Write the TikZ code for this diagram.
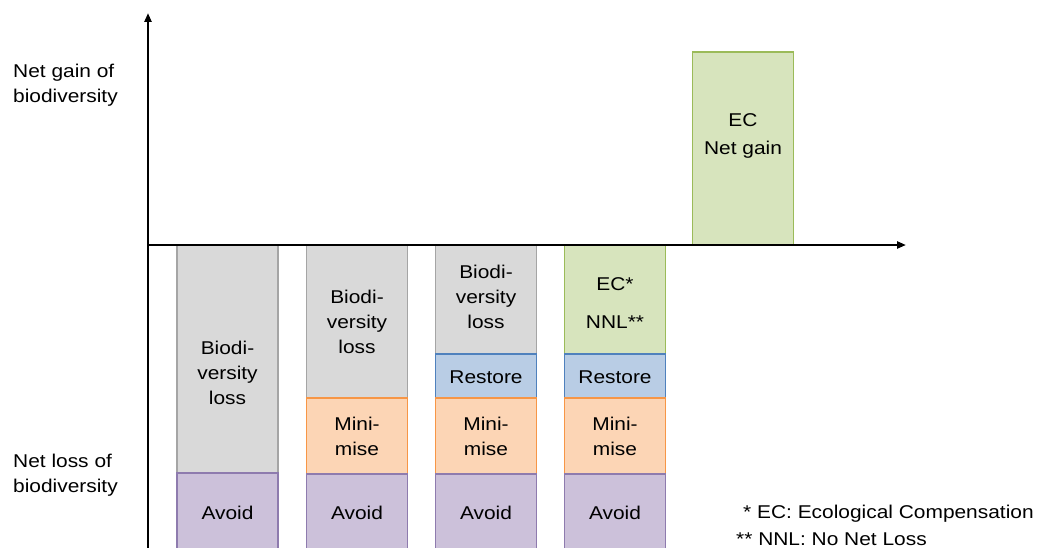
\documentclass[tikz,border=0pt]{standalone}
\usepackage{fontspec}
\setmainfont{Liberation Sans}[FakeStretch=1.13]
\usetikzlibrary{arrows.meta}
\definecolor{lossF}{HTML}{D9D9D9}
\definecolor{lossD}{HTML}{A5A5A5}
\definecolor{avoidF}{HTML}{CCC1DA}
\definecolor{avoidD}{HTML}{8E7BAE}
\definecolor{miniF}{HTML}{FCD5B5}
\definecolor{miniD}{HTML}{F79646}
\definecolor{restF}{HTML}{B9CDE5}
\definecolor{restD}{HTML}{4F81BD}
\definecolor{ecF}{HTML}{D7E4BD}
\definecolor{ecD}{HTML}{9BBB59}
\begin{document}
\begin{tikzpicture}[x=1pt,y=-1pt,
  seg/.style={draw, line width=1.3pt, minimum width=101pt, inner sep=0pt, outer sep=0pt,
    align=center, font=\fontsize{18.5}{25}\selectfont},
  loss/.style={seg, fill=lossF, draw=lossD},
  avoid/.style={seg, fill=avoidF, draw=avoidD},
  mini/.style={seg, fill=miniF, draw=miniD},
  rest/.style={seg, fill=restF, draw=restD},
  ec/.style={seg, fill=ecF, draw=ecD},
  txt/.style={align=center, inner sep=0pt, font=\fontsize{18.5}{25}\selectfont},
  lab/.style={align=left, inner sep=0pt, anchor=west, font=\fontsize{18.5}{25.5}\selectfont},
  axis/.style={line width=2.2pt, -{Triangle[length=9pt,width=7pt]}}]
\clip (0,0) rectangle (1040,548);
\fill[white] (0,0) rectangle (1040,548);
% bar 1
\node[loss, minimum height=228pt] (b1g) at (227.5,359) {};
\node[txt] (b1t) at (227.5,373) {Biodi-\\versity\\loss};
\node[avoid, minimum height=80pt] (b1a) at (227.5,513) {};
\node[txt] (b1at) at (227.5,513) {Avoid};
% bar 2
\node[loss, minimum height=153pt] (b2g) at (357,321.5) {};
\node[txt] (b2t) at (357,322) {Biodi-\\versity\\loss};
\node[mini, minimum height=76pt] (b2m) at (357,436) {};
\node[txt] (b2mt) at (357,436) {Mini-\\mise};
\node[avoid, minimum height=80pt] (b2a) at (357,514) {};
\node[txt] (b2at) at (357,513) {Avoid};
% bar 3
\node[loss, minimum height=109pt] (b3g) at (486,299.5) {};
\node[txt] (b3t) at (486,297) {Biodi-\\versity\\loss};
\node[rest, minimum height=44pt] (b3r) at (486,376) {};
\node[txt] (b3rt) at (486,377) {Restore};
\node[mini, minimum height=76pt] (b3m) at (486,436) {};
\node[txt] (b3mt) at (486,436) {Mini-\\mise};
\node[avoid, minimum height=80pt] (b3a) at (486,514) {};
\node[txt] (b3at) at (486,513) {Avoid};
% bar 4
\node[ec, minimum height=109pt] (b4g) at (615,299.5) {};
\node[txt] (b4t) at (615,303) {EC*\\[13pt]NNL**};
\node[rest, minimum height=44pt] (b4r) at (615,376) {};
\node[txt] (b4rt) at (615,377) {Restore};
\node[mini, minimum height=76pt] (b4m) at (615,436) {};
\node[txt] (b4mt) at (615,436) {Mini-\\mise};
\node[avoid, minimum height=80pt] (b4a) at (615,514) {};
\node[txt] (b4at) at (615,513) {Avoid};
% bar 5
\node[ec, minimum height=193pt] (b5) at (743,148.5) {};
\node[txt] (b5t) at (743,136) {EC\\[3pt]Net gain};
% axes
\coordinate (o) at (148,245);
\coordinate (ybot) at (148,552);
\coordinate (ytop) at (148,13);
\coordinate (xend) at (906,245);
\draw[axis] (ybot) -- (ytop);
\draw[axis] (o) -- (xend);
% side labels
\node[lab] (gain) at (13,85) {Net gain of\\biodiversity};
\node[lab] (lossl) at (13,475) {Net loss of\\biodiversity};
% footnotes
\node[lab] (fn1) at (743,514) {* EC: Ecological Compensation};
\node[lab] (fn2) at (736,539) {** NNL: No Net Loss};
\end{tikzpicture}
\end{document}
